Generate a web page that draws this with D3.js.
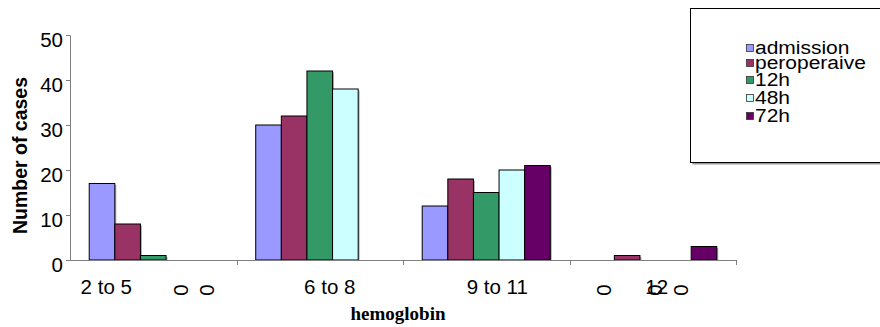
<!DOCTYPE html>
<html>
<head>
<meta charset="utf-8">
<script src="https://cdn.jsdelivr.net/npm/d3@7"></script>
<style>
  body { margin: 0; background: #fff; }
  svg { display: block; }
</style>
</head>
<body>
<script>
// data
var categories = ["2 to 5", "6 to 8", "9 to 11", "12"];
var seriesNames = ["admission", "peroperaive", "12h", "48h", "72h"];
var admission   = [17, 30, 12, 0];
var peroperaive = [8, 32, 18, 1];
var h12         = [1, 42, 15, 0];
var h48         = [0, 38, 20, 0];
var h72         = [0, null, 21, 3];
var yTicks = [0, 10, 20, 30, 40, 50];

var seriesValues = [admission, peroperaive, h12, h48, h72];
var colors = ["#9999FF", "#993366", "#339966", "#CCFFFF", "#660066"];

var width = 880, height = 327;
var plotLeft = 70, plotRight = 736, plotTop = 35, plotBottom = 260;

// layout tweaks for the category labels (Excel placed them off-centre)
var labelShift = [-47, 10, 11, 4];
var legendRows = [48, 63, 80, 98, 116];

var svg = d3.select("body").append("svg")
    .attr("width", width)
    .attr("height", height);

var x0 = d3.scaleBand().domain(categories).range([plotLeft, plotRight]).padding(0);
var x1 = d3.scaleBand().domain(seriesNames).range([0, x0.bandwidth()])
    .paddingInner(0).paddingOuter(0.75);
var y = d3.scaleLinear().domain([0, 50]).range([plotBottom, plotTop]);

// build a flat table of bars
var bars = [];
categories.forEach(function(c, i) {
    seriesNames.forEach(function(s, j) {
        bars.push({cat: c, series: s, value: seriesValues[j][i], color: colors[j]});
    });
});

// bars with a faint shadow
var g = svg.append("g");
g.selectAll("rect.shadow")
    .data(bars.filter(function(d) { return d.value > 0; }))
    .enter().append("rect")
    .attr("class", "shadow")
    .attr("x", function(d) { return x0(d.cat) + x1(d.series) + 1.5; })
    .attr("y", function(d) { return y(d.value) + 1.5; })
    .attr("width", x1.bandwidth())
    .attr("height", function(d) { return plotBottom - y(d.value) - 1.5; })
    .attr("fill", "#b0b0b0");

g.selectAll("rect.bar")
    .data(bars.filter(function(d) { return d.value > 0; }))
    .enter().append("rect")
    .attr("class", "bar")
    .attr("x", function(d) { return x0(d.cat) + x1(d.series); })
    .attr("y", function(d) { return y(d.value); })
    .attr("width", x1.bandwidth())
    .attr("height", function(d) { return plotBottom - y(d.value); })
    .attr("fill", function(d) { return d.color; })
    .attr("stroke", "#000")
    .attr("stroke-width", 1);

// y axis
var yAxis = svg.append("g")
    .attr("transform", "translate(" + plotLeft + ",0)")
    .call(d3.axisLeft(y).tickValues(yTicks).tickSize(4).tickPadding(3));
yAxis.select(".domain").attr("stroke", "#808080");
yAxis.selectAll(".tick line").attr("stroke", "#808080");
yAxis.selectAll(".tick text")
    .attr("font-family", "Arial, 'Liberation Sans', sans-serif")
    .attr("font-size", "20.5px")
    .attr("fill", "#000")
    .attr("dy", "0.55em");

// x axis line and boundary ticks
svg.append("line")
    .attr("x1", plotLeft).attr("x2", plotRight)
    .attr("y1", plotBottom + 0.5).attr("y2", plotBottom + 0.5)
    .attr("stroke", "#808080");
svg.selectAll("line.xtick")
    .data(categories)
    .enter().append("line")
    .attr("class", "xtick")
    .attr("x1", function(d) { return Math.round(x0(d) + x0.bandwidth()) + 0.5; })
    .attr("x2", function(d) { return Math.round(x0(d) + x0.bandwidth()) + 0.5; })
    .attr("y1", plotBottom).attr("y2", plotBottom + 5)
    .attr("stroke", "#808080");

// category labels
svg.selectAll("text.cat")
    .data(categories)
    .enter().append("text")
    .attr("class", "cat")
    .attr("x", function(d, i) { return x0(d) + x0.bandwidth() / 2 + labelShift[i]; })
    .attr("y", 294)
    .attr("text-anchor", "middle")
    .attr("font-family", "Arial, 'Liberation Sans', sans-serif")
    .attr("font-size", "20.5px")
    .text(function(d) { return d; });

// rotated "0" data labels for zero-valued bars
svg.selectAll("text.zero")
    .data(bars.filter(function(d) { return d.value === 0; }))
    .enter().append("text")
    .attr("class", "zero")
    .attr("transform", function(d) {
        var cx = x0(d.cat) + x1(d.series) + x1.bandwidth() / 2 + 2;
        return "translate(" + cx + ",290) rotate(-90)";
    })
    .attr("text-anchor", "middle")
    .attr("dominant-baseline", "central")
    .attr("font-family", "Arial, 'Liberation Sans', sans-serif")
    .attr("font-size", "20.5px")
    .text(function(d) { return d.value; });

// axis titles
svg.append("text")
    .attr("transform", "translate(27," + ((plotTop + plotBottom) / 2 + 8) + ") rotate(-90)")
    .attr("text-anchor", "middle")
    .attr("font-family", "Arial, 'Liberation Sans', sans-serif")
    .attr("font-weight", "bold")
    .attr("font-size", "19.5px")
    .text("Number of cases");

svg.append("text")
    .attr("x", 398)
    .attr("y", 320)
    .attr("text-anchor", "middle")
    .attr("font-family", "'Times New Roman', 'Liberation Serif', serif")
    .attr("font-weight", "bold")
    .attr("font-size", "19px")
    .text("hemoglobin");

// legend box (runs off the right edge)
svg.append("rect")
    .attr("x", 692.5).attr("y", 10.5)
    .attr("width", 200).attr("height", 154)
    .attr("fill", "#999");
svg.append("rect")
    .attr("x", 690.5).attr("y", 8.5)
    .attr("width", 200).attr("height", 154)
    .attr("fill", "#fff")
    .attr("stroke", "#000");

var legend = svg.selectAll("g.legend")
    .data(seriesNames)
    .enter().append("g")
    .attr("class", "legend")
    .attr("transform", function(d, i) { return "translate(746," + legendRows[i] + ")"; });
legend.append("rect")
    .attr("x", 0.5).attr("y", -3.5)
    .attr("width", 7).attr("height", 7)
    .attr("fill", function(d, i) { return colors[i]; })
    .attr("stroke", "#333")
    .attr("stroke-width", 0.8);
legend.append("text")
    .attr("transform", "translate(9,6) scale(1,0.85)")
    .attr("font-family", "Arial, 'Liberation Sans', sans-serif")
    .attr("font-size", "21px")
    .text(function(d) { return d; });
</script>
</body>
</html>
